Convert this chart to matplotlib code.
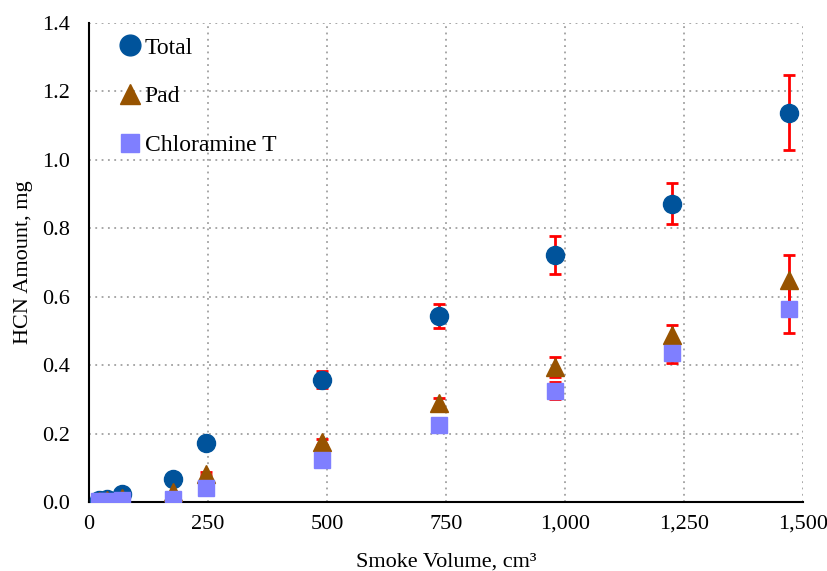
import numpy as np
import matplotlib.pyplot as plt
from matplotlib.ticker import FuncFormatter

plt.rcParams['font.family'] = ['Liberation Serif', 'DejaVu Serif']

volume = [20, 38, 70, 176, 245, 490, 735, 980, 1225, 1470]
total = [0.005, 0.01, 0.022, 0.068, 0.173, 0.357, 0.545, 0.722, 0.872, 1.138]
total_err = [0, 0, 0, 0, 0.005, 0.025, 0.035, 0.055, 0.06, 0.11]
pad = [0.004, 0.007, 0.012, 0.03, 0.083, 0.175, 0.29, 0.395, 0.488, 0.648]
pad_err = [0, 0, 0, 0, 0.005, 0.008, 0.015, 0.03, 0.03, 0.075]
chlor = [0.002, 0.003, 0.005, 0.01, 0.04, 0.123, 0.226, 0.325, 0.435, 0.563]
chlor_err = [0, 0, 0, 0, 0, 0.008, 0.012, 0.025, 0.03, 0.068]

fig = plt.figure(figsize=(8.28, 5.71), dpi=100)
ax = fig.add_axes([0.1075, 0.1208, 0.8623, 0.8389])

ekw = dict(fmt='none', ecolor='#FF0000', elinewidth=2, capsize=4, capthick=2, zorder=2)
ax.errorbar(volume, total, yerr=total_err, **ekw)
ax.errorbar(volume, pad, yerr=pad_err, **ekw)
ax.errorbar(volume, chlor, yerr=chlor_err, **ekw)

ax.plot(volume, total, 'o', ms=13, color='#00539B', label='Total', zorder=3)
ax.plot(volume, pad, '^', ms=13, color='#975300', label='Pad', zorder=4)
ax.plot(volume, chlor, 's', ms=11, color='#7F7FFF', label='Chloramine T', zorder=5)

ax.set_xlim(0, 1500)
ax.set_ylim(0, 1.4)
ax.set_xticks(np.arange(0, 1501, 250))
ax.set_yticks(np.arange(0, 1.41, 0.2))
ax.xaxis.set_major_formatter(FuncFormatter(lambda v, p: f'{v:,.0f}'))
ax.yaxis.set_major_formatter(FuncFormatter(lambda v, p: f'{v:.1f}'))
ax.tick_params(length=0, labelsize=16)
ax.tick_params(axis='x', pad=9)
ax.tick_params(axis='y', pad=14)
ax.grid(True, linestyle=(0, (1, 2.5)), color='#A0A0A0', linewidth=1.3)
ax.set_axisbelow(True)
for s in ['top', 'right']:
    ax.spines[s].set_visible(False)
for s in ['left', 'bottom']:
    ax.spines[s].set_linewidth(1.5)
    ax.spines[s].set_color('black')

ax.set_xlabel('Smoke Volume, cm³', fontsize=16, labelpad=14)
ax.set_ylabel('HCN Amount, mg', fontsize=16, labelpad=6)

ax.legend(loc='upper left', frameon=False, fontsize=17, handletextpad=-0.15,
          labelspacing=1.15, borderaxespad=0.3, handlelength=1.5,
          markerscale=1.15, bbox_to_anchor=(0.01, 1.005))

fig.savefig('out.png', dpi=100)
